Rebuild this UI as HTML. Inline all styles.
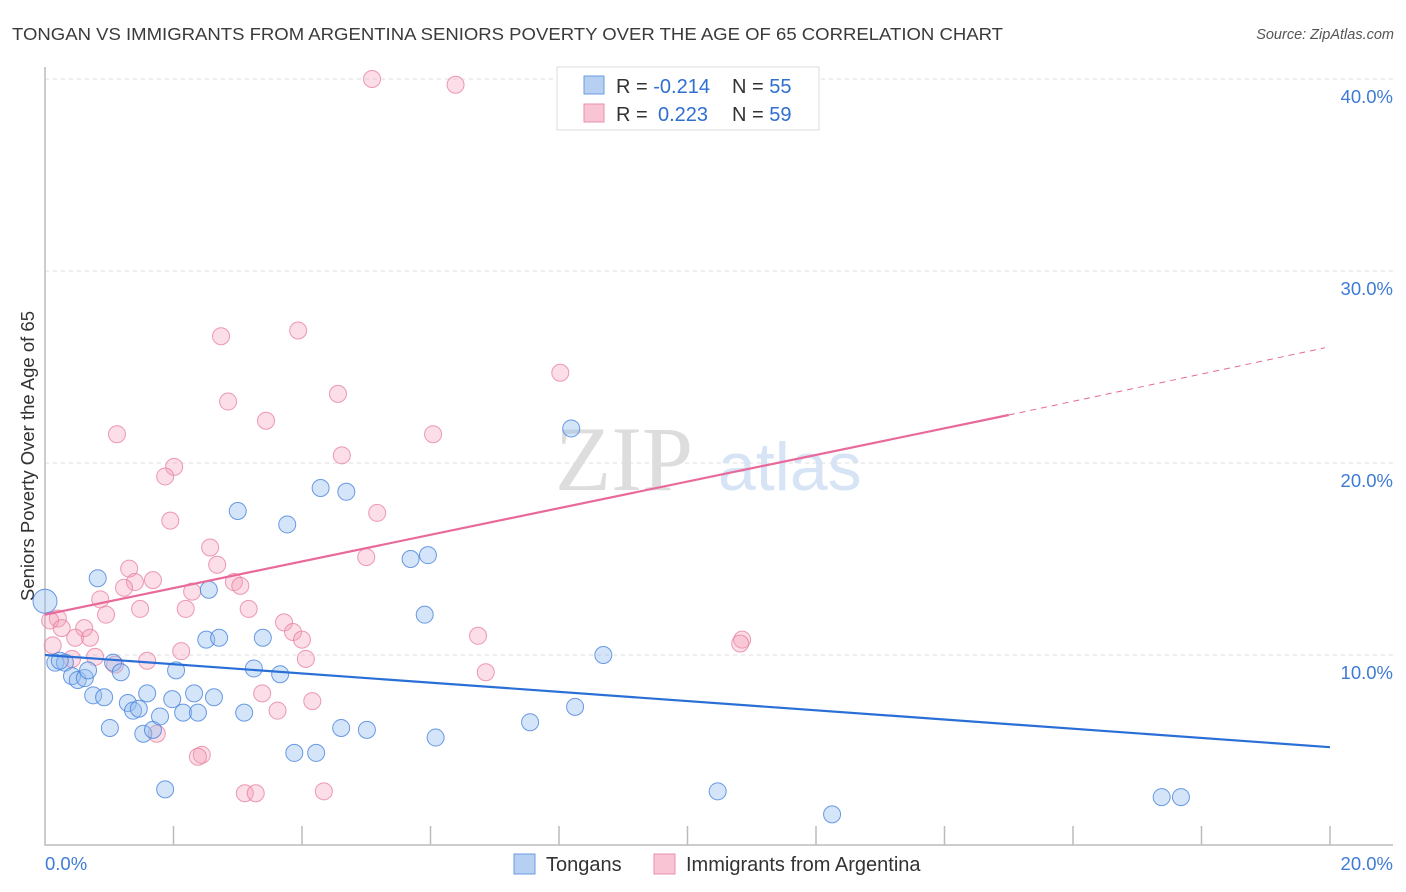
<!DOCTYPE html>
<html><head><meta charset="utf-8">
<style>
body{margin:0;background:#fff;font-family:"Liberation Sans",sans-serif;}
svg{display:block}
</style></head>
<body>
<svg id="chart" width="1406" height="892" xmlns="http://www.w3.org/2000/svg">
<text x="12" y="40" font-size="17.5" fill="#3a3a3a" textLength="991" lengthAdjust="spacingAndGlyphs">TONGAN VS IMMIGRANTS FROM ARGENTINA SENIORS POVERTY OVER THE AGE OF 65 CORRELATION CHART</text>
<text x="1394" y="39" font-size="14.5" fill="#555" font-style="italic" text-anchor="end">Source: ZipAtlas.com</text>
<text transform="translate(34,456) rotate(-90)" font-size="18.5" fill="#333" text-anchor="middle">Seniors Poverty Over the Age of 65</text>
<g id="grid"></g>
<text x="555" y="490" font-size="92" fill="#ddd" font-family="Liberation Serif,serif">ZIP</text>
<text x="718" y="490" font-size="68" fill="#d6e4f5">atlas</text>
<g id="points"></g>
<g id="lines"></g>
<g>
<rect x="557" y="67" width="262" height="63" fill="#fff" stroke="#ddd"/>
<rect x="584" y="76" width="20" height="18" fill="#b7d0f2" stroke="#6a9be0"/>
<rect x="584" y="104" width="20" height="18" fill="#f9c5d4" stroke="#ea8fab"/>
<text x="616" y="93" font-size="20" fill="#333">R = <tspan fill="#2f6fd0">-0.214</tspan><tspan x="732">N = </tspan><tspan fill="#2f6fd0">55</tspan></text>
<text x="616" y="121" font-size="20" fill="#333">R = <tspan fill="#2f6fd0" x="658">0.223</tspan><tspan x="732">N = </tspan><tspan fill="#2f6fd0">59</tspan></text>
</g>
<g>
<rect x="514" y="854" width="21" height="20" fill="#b7d0f2" stroke="#6a9be0"/>
<text x="546" y="871" font-size="20" fill="#333">Tongans</text>
<rect x="654" y="854" width="21" height="20" fill="#f9c5d4" stroke="#ea8fab"/>
<text x="686" y="871" font-size="20" fill="#333">Immigrants from Argentina</text>
</g>
</svg>
<script>
const yTicks=[10,20,30,40];
const xTickLabels=["0.0%","20.0%"];
const blueX=[0,0.16,0.31,0.23,0.42,0.51,0.62,0.67,0.82,0.75,0.92,1.01,1.06,1.18,1.29,1.37,1.46,1.53,1.59,1.68,1.79,1.87,1.98,2.04,2.15,2.32,2.38,2.51,2.55,2.63,2.71,3.0,3.1,3.25,3.39,3.66,3.77,3.88,4.22,4.29,4.61,4.69,5.01,5.69,5.91,5.96,6.08,7.55,8.19,8.25,8.69,10.47,12.25,17.38,17.68];
const blueY=[12.8,9.6,9.6,9.7,8.9,8.7,8.8,9.2,14.0,7.9,7.8,6.2,9.6,9.1,7.5,7.1,7.2,5.9,8.0,6.1,6.8,3.0,7.7,9.2,7.0,8.0,7.0,10.8,13.4,7.8,10.9,17.5,7.0,9.3,10.9,9.0,16.8,4.9,4.9,18.7,6.2,18.5,6.1,15.0,12.1,15.2,5.7,6.5,21.8,7.3,10.0,2.9,1.7,2.6,2.6];
const pinkX=[5.09,6.39,2.74,3.94,8.02,2.85,4.56,3.44,1.12,6.04,4.62,2.01,1.87,5.17,1.95,2.57,5.0,2.68,1.31,1.68,1.4,1.23,2.94,3.04,2.29,0.86,0.2,1.48,2.19,3.17,0.95,0.08,0.61,0.26,3.72,3.86,4.0,6.74,10.85,10.82,0.47,0.7,0.12,2.12,0.78,0.42,1.59,4.06,6.86,3.38,4.16,3.62,1.74,2.44,2.38,3.11,3.28,4.34,1.09];
const pinkY=[40.0,39.7,26.6,26.9,24.7,23.2,23.6,22.2,21.5,21.5,20.4,19.8,19.3,17.4,17.0,15.6,15.1,14.7,14.5,13.9,13.8,13.5,13.8,13.6,13.3,12.9,11.9,12.4,12.4,12.4,12.1,11.8,11.4,11.4,11.7,11.2,10.8,11.0,10.8,10.6,10.9,10.9,10.5,10.2,9.9,9.8,9.7,9.8,9.1,8.0,7.6,7.1,5.9,4.8,4.7,2.8,2.8,2.9,9.5];
const blueTrend=[[0,10.0],[20,5.2]];
const pinkTrendSolid=[[0,12.1],[15.0,22.5]];
const pinkTrendDash=[[15.0,22.5],[19.92,26.0]];
const NS="http://www.w3.org/2000/svg";
function sx(v){return 45+v/20*1285;}
function sy(v){return 847-v*19.2;}
function mk(t,a,p){const e=document.createElementNS(NS,t);for(const k in a)e.setAttribute(k,a[k]);p.appendChild(e);return e;}
const grid=document.getElementById('grid');
yTicks.forEach(t=>{
 const l=mk('line',{x1:45,x2:1393,y1:sy(t),y2:sy(t),stroke:'#ddd','stroke-dasharray':'4,4'},grid);
 
 
 const tx=mk('text',{x:1393,y:sy(t)+24,'font-size':18.5,fill:'#3f7bd6','text-anchor':'end'},grid);
 tx.textContent=t.toFixed(1)+'%';
 
 
});
const ax=mk('path',{d:'M45 67 V845 H1393',fill:'none',stroke:'#bbb','stroke-width':1.5},grid);


for(let i=1;i<=10;i++){
 const t=mk('line',{x1:sx(i*2),x2:sx(i*2),y1:826,y2:845,stroke:'#bbb','stroke-width':1.5},grid);
 
 
}
[[0,'start',45],[20,'end',1393]].forEach((d,i)=>{
 const tx=mk('text',{x:d[2],y:870,'font-size':18.5,fill:'#3f7bd6','text-anchor':d[1]},grid);
 tx.textContent=xTickLabels[i];
 
 
});
const pts=document.getElementById('points');
pinkX.forEach((x,i)=>{
 const c=mk('circle',{cx:sx(x),cy:sy(pinkY[i]),r:8.5,fill:'rgba(244,160,185,0.35)',stroke:'rgba(232,130,160,0.8)','stroke-width':1},pts);
 
 
});
blueX.forEach((x,i)=>{
 const c=mk('circle',{cx:sx(x),cy:sy(blueY[i]),r:i==0?12:8.5,fill:'rgba(150,190,240,0.4)',stroke:'rgba(70,130,220,0.8)','stroke-width':1},pts);
 
 
});
const ln=document.getElementById('lines');
function seg(p,col,dash,name){
 const l=mk('line',{x1:sx(p[0][0]),y1:sy(p[0][1]),x2:sx(p[1][0]),y2:sy(p[1][1]),stroke:col,'stroke-width':dash?1:2.2},ln);
 if(dash)l.setAttribute('stroke-dasharray','6,5');
 
 
}
seg(blueTrend,'#2a6fd6',false,'tongan-trendline');
seg(pinkTrendSolid,'#e8699a',false,'argentina-trendline');
seg(pinkTrendDash,'#e8699a',true,'argentina-trendline-extension');
</script>
</body></html>
